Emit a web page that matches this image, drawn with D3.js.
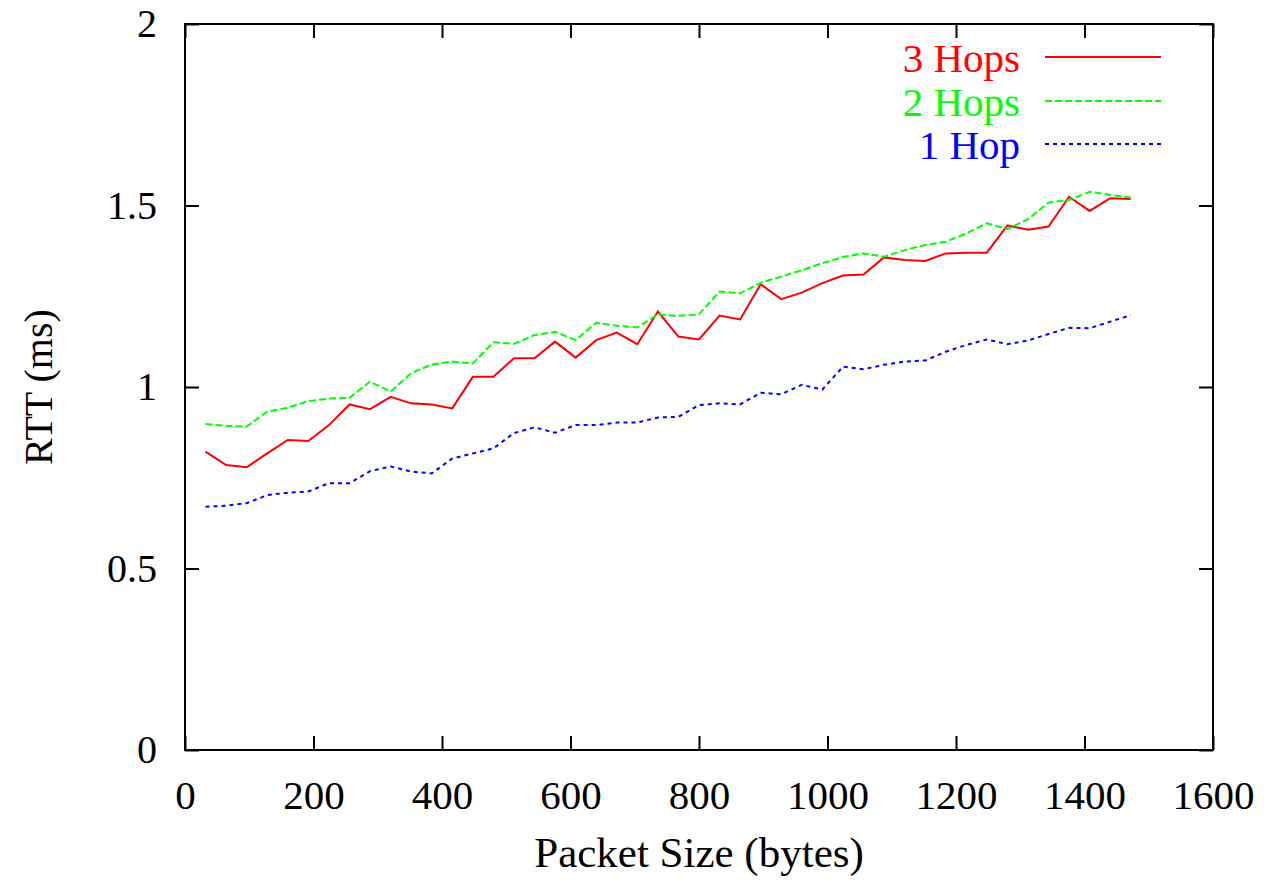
<!DOCTYPE html>
<html>
<head>
<meta charset="utf-8">
<script src="https://cdn.jsdelivr.net/npm/d3@7"></script>
<style>
  html, body { margin: 0; padding: 0; background: #fff; }
  svg text { font-family: "Liberation Serif", Tinos, "Times New Roman", Times, "Nimbus Roman", "DejaVu Serif", serif !important; }
</style>
</head>
<body>
<svg id="chart" width="1264" height="882"></svg>
<script>
// ---- data ----
const packetSizes = [32, 64, 96, 128, 160, 192, 224, 256, 288, 320, 352, 384, 416, 448, 480, 512,
  544, 576, 608, 640, 672, 704, 736, 768, 800, 832, 864, 896, 928, 960, 992, 1024,
  1056, 1088, 1120, 1152, 1184, 1216, 1248, 1280, 1312, 1344, 1376, 1408, 1440, 1472];

const hops3 = [0.822, 0.785, 0.779, 0.817, 0.854, 0.851, 0.895, 0.952, 0.939, 0.973, 0.955, 0.952,
  0.941, 1.028, 1.028, 1.079, 1.079, 1.125, 1.081, 1.129, 1.150, 1.118, 1.208, 1.139,
  1.131, 1.197, 1.186, 1.283, 1.242, 1.260, 1.286, 1.307, 1.310, 1.357, 1.350, 1.347,
  1.368, 1.370, 1.370, 1.445, 1.433, 1.442, 1.524, 1.485, 1.520, 1.518];

const hops2 = [0.898, 0.893, 0.891, 0.932, 0.943, 0.961, 0.968, 0.970, 1.015, 0.987, 1.038, 1.062,
  1.070, 1.065, 1.123, 1.119, 1.143, 1.152, 1.129, 1.177, 1.169, 1.164, 1.200, 1.196,
  1.200, 1.263, 1.258, 1.287, 1.304, 1.322, 1.341, 1.358, 1.368, 1.359, 1.377, 1.391,
  1.400, 1.423, 1.451, 1.435, 1.462, 1.508, 1.515, 1.538, 1.529, 1.522];

const hop1 = [0.670, 0.673, 0.680, 0.702, 0.709, 0.712, 0.735, 0.735, 0.768, 0.781, 0.767, 0.762,
  0.803, 0.817, 0.831, 0.873, 0.889, 0.874, 0.895, 0.895, 0.902, 0.902, 0.916, 0.918,
  0.950, 0.955, 0.952, 0.984, 0.980, 1.006, 0.993, 1.056, 1.049, 1.061, 1.070, 1.073,
  1.097, 1.116, 1.131, 1.118, 1.128, 1.146, 1.163, 1.162, 1.180, 1.198];

const xTicks = [0, 200, 400, 600, 800, 1000, 1200, 1400, 1600];
const yTicks = [0, 0.5, 1, 1.5, 2];
const yTickLabels = ["0", "0.5", "1", "1.5", "2"];

const seriesNames = ["3 Hops", "2 Hops", "1 Hop"];
const seriesColors = ["#ff0000", "#00ff00", "#0000ff"];
const seriesDash = [null, "7,3", "4,4"];
const seriesValues = [hops3, hops2, hop1];

// ---- layout ----
const pLeft = 185, pRight = 1213, pTop = 24, pBottom = 750;
const svg = d3.select("#chart");
const FONT = "'Liberation Serif', Tinos, 'Times New Roman', Times, 'DejaVu Serif', serif";

const x = d3.scaleLinear().domain([0, 1600]).range([pLeft, pRight]);
const y = d3.scaleLinear().domain([0, 2]).range([pBottom, pTop]);

const tickLen = 14;

// frame
svg.append("rect")
  .attr("x", pLeft).attr("y", pTop)
  .attr("width", pRight - pLeft).attr("height", pBottom - pTop)
  .attr("fill", "none").attr("stroke", "#000").attr("stroke-width", 2);

// x axis (bottom) with labels
const xAxis = d3.axisBottom(x).tickValues(xTicks).tickSizeInner(-tickLen).tickSizeOuter(0).tickPadding(30)
  .tickFormat(d3.format("d"));
const gx = svg.append("g").attr("transform", `translate(0,${pBottom})`).call(xAxis)
  .attr("font-family", FONT);
gx.select(".domain").remove();
gx.selectAll("line").attr("stroke", "#000").attr("stroke-width", 2);
gx.selectAll("text").attr("font-size", 41).attr("fill", "#000");

// x mirror (top)
const gxt = svg.append("g").attr("transform", `translate(0,${pTop})`)
  .call(d3.axisTop(x).tickValues(xTicks).tickSizeInner(-tickLen).tickSizeOuter(0).tickFormat(""));
gxt.select(".domain").remove();
gxt.selectAll("line").attr("stroke", "#000").attr("stroke-width", 2);

// y axis (left)
const yAxis = d3.axisLeft(y).tickValues(yTicks).tickSizeInner(-tickLen).tickSizeOuter(0).tickPadding(28)
  .tickFormat((d, i) => yTickLabels[i]);
const gy = svg.append("g").attr("transform", `translate(${pLeft},0)`).call(yAxis)
  .attr("font-family", FONT);
gy.select(".domain").remove();
gy.selectAll("line").attr("stroke", "#000").attr("stroke-width", 2);
gy.selectAll("text").attr("font-size", 40).attr("fill", "#000");

// y mirror (right)
const gyr = svg.append("g").attr("transform", `translate(${pRight},0)`)
  .call(d3.axisRight(y).tickValues(yTicks).tickSizeInner(-tickLen).tickSizeOuter(0).tickFormat(""));
gyr.select(".domain").remove();
gyr.selectAll("line").attr("stroke", "#000").attr("stroke-width", 2);

// axis titles
svg.append("text")
  .attr("x", (pLeft + pRight) / 2).attr("y", 867)
  .attr("text-anchor", "middle").attr("font-size", 43)
  .attr("font-family", FONT)
  .text("Packet Size (bytes)");

svg.append("text")
  .attr("transform", `translate(52,${(pTop + pBottom) / 2}) rotate(-90)`)
  .attr("text-anchor", "middle").attr("font-size", 40)
  .attr("font-family", FONT)
  .text("RTT (ms)");

// lines
const line = d3.line().x((d, i) => x(packetSizes[i])).y(d => y(d));
seriesValues.forEach((vals, k) => {
  svg.append("path")
    .datum(vals)
    .attr("d", line)
    .attr("fill", "none")
    .attr("stroke", seriesColors[k])
    .attr("stroke-width", 2)
    .attr("stroke-linejoin", "miter")
    .attr("stroke-dasharray", seriesDash[k]);
});

// legend
const legendY = [57, 101, 144];
seriesNames.forEach((name, k) => {
  svg.append("text")
    .attr("x", 1020).attr("y", legendY[k] + 15)
    .attr("text-anchor", "end").attr("font-size", 41)
    .attr("font-family", FONT)
    .attr("fill", seriesColors[k])
    .text(name);
  svg.append("line")
    .attr("x1", 1045).attr("x2", 1161)
    .attr("y1", legendY[k]).attr("y2", legendY[k])
    .attr("stroke", seriesColors[k]).attr("stroke-width", 2)
    .attr("stroke-dasharray", seriesDash[k]);
});
</script>
</body>
</html>
